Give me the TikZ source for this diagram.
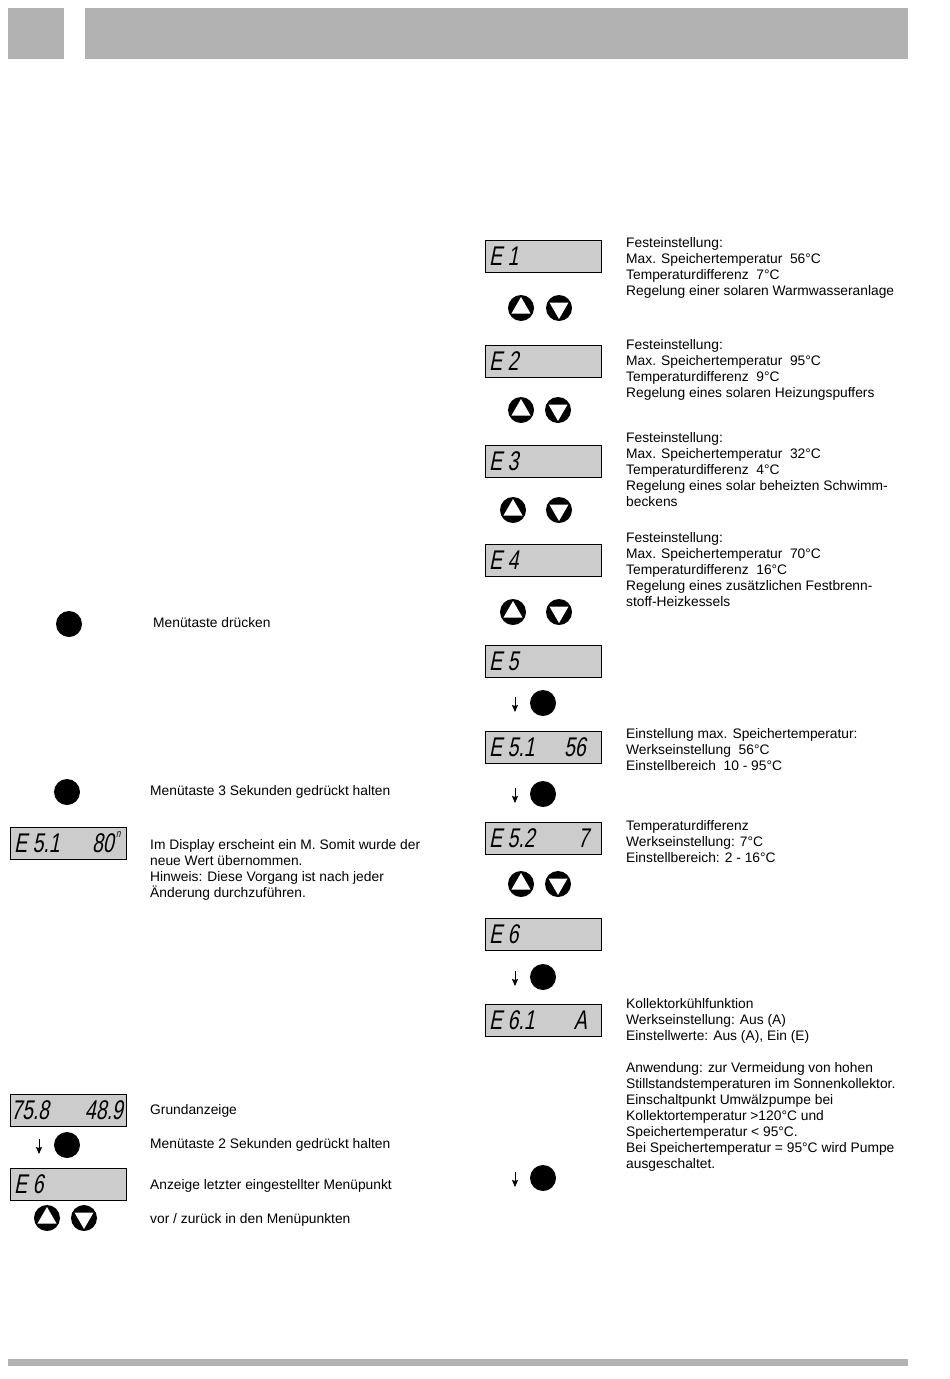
\documentclass[tikz,border=0pt]{standalone}
\usepackage{fontspec}
\setmainfont{Liberation Sans}
\newfontfamily\lcdfont[FakeStretch=0.72,FakeSlant=0.2]{Liberation Sans}
\usetikzlibrary{shapes.geometric,arrows.meta}
\definecolor{hdrgray}{gray}{0.70}
\definecolor{lcdgray}{gray}{0.80}
\tikzset{
  hdr/.style={fill=hdrgray, draw=none},
  lcd/.style={draw=black, line width=1.2pt, fill=lcdgray, anchor=north west, minimum width=116pt, minimum height=32pt, inner sep=0},
  lcdt/.style={font=\lcdfont\fontsize{27}{27}\selectfont, inner sep=0, anchor=base west},
  lcdr/.style={font=\lcdfont\fontsize{27}{27}\selectfont, inner sep=0, anchor=base east},
  txt/.style={font=\fontsize{13.8}{16}\selectfont, inner sep=0, anchor=north west, align=left},
  btn/.style={circle, fill=black, minimum size=26pt, inner sep=0},
  tri up/.style={regular polygon, regular polygon sides=3, fill=white, minimum size=22pt, inner sep=0},
  tri down/.style={regular polygon, regular polygon sides=3, shape border rotate=180, fill=white, minimum size=22pt, inner sep=0},
  darr/.style={-{Stealth[length=7pt,width=6pt,inset=1pt]}, line width=0.9pt},
}
\newcommand{\updown}[4]{%
  \node[btn] (#1) at (#2,#4) {};
  \node[tri up] (#1t) at (#1) {};
  \node[btn] (#1d) at (#3,#4) {};
  \node[tri down] (#1dt) at (#1d) {};
}
\begin{document}
\begin{tikzpicture}[x=1pt,y=-1pt]
\useasboundingbox (0,0) rectangle (950,1379);
% header and footer bars
\fill[hdrgray] (8,8) rectangle (64,59);
\fill[hdrgray] (85,8) rectangle (908,59);
\fill[hdrgray] (8,1359) rectangle (908,1366);

% ---------------- right column ----------------
\node[lcd] (d1) at (485,240) {};
\node[lcdt] (d1a) at (489,265) {E 1};
\updown{b1}{521}{559}{308}
\node[txt] (t1) at (626,235.8) {\strut Festeinstellung:\\Max. Speichertemperatur\ \ 56°C\\Temperaturdifferenz\ \ 7°C\\Regelung einer solaren Warmwasseranlage};

\node[lcd] (d2) at (485,345) {};
\node[lcdt] (d2a) at (489,370) {E 2};
\updown{b2}{521}{558}{410}
\node[txt] (t2) at (626,337.8) {\strut Festeinstellung:\\Max. Speichertemperatur\ \ 95°C\\Temperaturdifferenz\ \ 9°C\\Regelung eines solaren Heizungspuffers};

\node[lcd] (d3) at (485,445) {};
\node[lcdt] (d3a) at (489,470) {E 3};
\updown{b3}{513}{559}{510}
\node[txt] (t3) at (626,430.8) {\strut Festeinstellung:\\Max. Speichertemperatur\ \ 32°C\\Temperaturdifferenz\ \ 4°C\\Regelung eines solar beheizten Schwimm-\\beckens};

\node[lcd] (d4) at (485,544) {};
\node[lcdt] (d4a) at (489,569) {E 4};
\updown{b4}{513}{559}{612}
\node[txt] (t4) at (626,530.8) {\strut Festeinstellung:\\Max. Speichertemperatur\ \ 70°C\\Temperaturdifferenz\ \ 16°C\\Regelung eines zusätzlichen Festbrenn-\\stoff-Heizkessels};

\node[lcd] (d5) at (485,645) {};
\node[lcdt] (d5a) at (489,670) {E 5};
\coordinate (a5s) at (515,697);
\coordinate (a5e) at (515,712);
\draw[darr] (a5s) -- (a5e);
\node[btn] (m5) at (543,703) {};

\node[lcd] (d51) at (485,731) {};
\node[lcdt] (d51a) at (489,756) {E 5.1};
\node[lcdr] (d51b) at (586,756) {56};
\node[txt] (t51) at (626,726.8) {\strut Einstellung max. Speichertemperatur:\\Werkseinstellung\ \ 56°C\\Einstellbereich\ \ 10 - 95°C};
\coordinate (a51s) at (515,788);
\coordinate (a51e) at (515,803);
\draw[darr] (a51s) -- (a51e);
\node[btn] (m51) at (543,794) {};

\node[lcd] (d52) at (485,822) {};
\node[lcdt] (d52a) at (489,847) {E 5.2};
\node[lcdr] (d52b) at (589,847) {7};
\node[txt] (t52) at (626,818.8) {\strut Temperaturdifferenz\\Werkseinstellung: 7°C\\Einstellbereich: 2 - 16°C};
\updown{b52}{521}{558}{884}

\node[lcd] (d6) at (485,918) {};
\node[lcdt] (d6a) at (489,943) {E 6};
\coordinate (a6s) at (515,971);
\coordinate (a6e) at (515,986);
\draw[darr] (a6s) -- (a6e);
\node[btn] (m6) at (543,977) {};

\node[lcd] (d61) at (485,1004) {};
\node[lcdt] (d61a) at (489,1029) {E 6.1};
\node[lcdr] (d61b) at (587,1029) {A};
\node[txt] (t61) at (626,996.8) {\strut Kollektorkühlfunktion\\Werkseinstellung: Aus (A)\\Einstellwerte: Aus (A), Ein (E)\\[16pt]Anwendung: zur Vermeidung von hohen\\Stillstandstemperaturen im Sonnenkollektor.\\Einschaltpunkt Umwälzpumpe bei\\Kollektortemperatur >120°C und\\Speichertemperatur < 95°C.\\Bei Speichertemperatur = 95°C wird Pumpe\\ausgeschaltet.};
\coordinate (a61s) at (515,1172);
\coordinate (a61e) at (515,1187);
\draw[darr] (a61s) -- (a61e);
\node[btn] (m61) at (543,1178) {};

% ---------------- left column ----------------
\node[btn] (lm1) at (69,624) {};
\node[txt] (lt1) at (153,615.8) {\strut Menütaste drücken};

\node[btn] (lm2) at (67,792) {};
\node[txt] (lt2) at (150,783.8) {\strut Menütaste 3 Sekunden gedrückt halten};

\node[lcd] (l51) at (10,827) {};
\node[lcdt] (l51a) at (14,852) {E 5.1};
\node[lcdr] (l51b) at (114,852) {80};
\node[inner sep=0, font=\lcdfont\fontsize{11}{11}\selectfont, anchor=base west] (l51c) at (116,837) {n};
\node[txt] (lt3) at (150,837.8) {\strut Im Display erscheint ein M. Somit wurde der\\neue Wert übernommen.\\Hinweis: Diese Vorgang ist nach jeder\\Änderung durchzuführen.};

\node[lcd] (l0) at (10,1094) {};
\node[lcdt] (l0a) at (11,1119) {75.8};
\node[lcdr] (l0b) at (123,1119) {48.9};
\node[txt] (lt4) at (150,1102.8) {\strut Grundanzeige};

\coordinate (las) at (39,1139);
\coordinate (lae) at (39,1154);
\draw[darr] (las) -- (lae);
\node[btn] (lm3) at (67,1145) {};
\node[txt] (lt5) at (150,1136.8) {\strut Menütaste 2 Sekunden gedrückt halten};

\node[lcd] (l6) at (10,1168) {};
\node[lcdt] (l6a) at (14,1193) {E 6};
\node[txt] (lt6) at (150,1177.8) {\strut Anzeige letzter eingestellter Menüpunkt};

\updown{lb}{47}{84}{1218}
\node[txt] (lt7) at (150,1211.8) {\strut vor / zurück in den Menüpunkten};
\end{tikzpicture}
\end{document}
